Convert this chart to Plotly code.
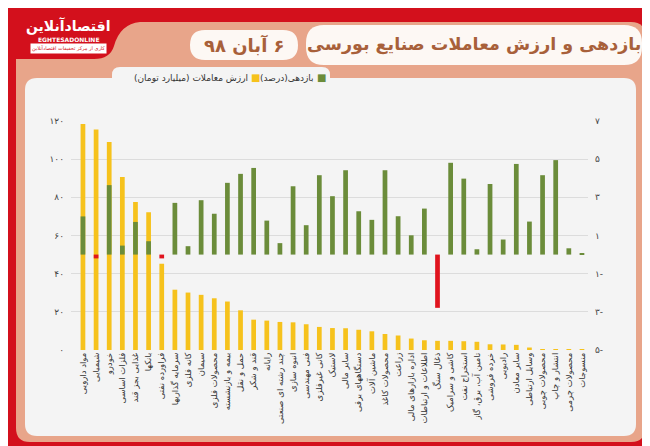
import plotly.graph_objects as go

# industries, ordered by trading value
industries = [
    "مواد دارویی", "شیمیایی", "خودرو", "فلزات اساسی", "غذایی بجز قند",
    "بانکها", "فراورده نفتی", "سرمایه گذاریها", "کانه فلزی", "سیمان",
    "محصولات فلزی", "بیمه و بازنشسته", "حمل و نقل", "قند و شکر", "رایانه",
    "چند رشته ای صنعتی", "انبوه سازی", "فنی مهندسی", "کانی غیرفلزی", "لاستیک",
    "سایر مالی", "دستگاههای برقی", "ماشین آلات", "محصولات کاغذ", "زراعت",
    "اداره بازارهای مالی", "اطلاعات و ارتباطات", "ذغال سنگ", "کاشی و سرامیک",
    "استخراج نفت", "تامین آب، برق، گاز", "خرده فروشی", "رادیویی", "سایر معادن",
    "وسایل ارتباطی", "محصولات چوبی", "انتشار و چاپ", "محصولات چرمی", "منسوجات",
]

# trading value (billion toman)
trade_value = [
    118.4, 115.5, 109.0, 90.7, 77.6, 72.2, 45.2, 31.6, 30.1, 28.9,
    27.1, 25.4, 20.8, 15.9, 15.4, 14.7, 14.5, 13.5, 12.1, 11.5,
    11.4, 10.6, 9.8, 8.4, 7.6, 6.0, 5.1, 4.8, 4.8, 4.6,
    4.3, 3.0, 2.9, 2.7, 1.3, 0.5, 0.3, 0.15, 0.1,
]

# return (percent)
returns = [
    2.0, -0.2, 3.64, 0.47, 1.71, 0.7, -0.2, 2.71, 0.44, 2.85,
    2.14, 3.76, 4.23, 4.54, 1.78, 0.6, 3.58, 1.54, 4.16, 3.06,
    4.42, 2.27, 1.82, 4.42, 2.01, 1.01, 2.41, -2.79, 4.81, 3.98,
    0.28, 3.7, 0.79, 4.75, 1.73, 4.16, 4.95, 0.33, 0.07,
]

left_ticks = [0, 20, 40, 60, 80, 100, 120]
left_labels = ["۰", "۲۰", "۴۰", "۶۰", "۸۰", "۱۰۰", "۱۲۰"]
right_ticks = [-5, -3, -1, 1, 3, 5, 7]
right_labels = ["۵-", "۳-", "۱-", "۱", "۳", "۵", "۷"]

YELLOW = "#f6c21c"
GREEN = "#6b8c3a"
RED = "#e0141e"
FRAME = "#d3101c"
PEACH = "#e8a58a"
PANEL = "#f4f4f4"
BROWN = "#a8603a"
FONT = "DejaVu Sans"

W, H = 650, 446
L, R, T, B = 63, 70, 113, 104
PW, PH = W - L - R, H - T - B


def px(x):
    return (x - L) / PW


def py(y):
    return (H - B - y) / PH


def rtl(s):
    # force right-to-left embedding for mixed persian text
    return "\u202b" + s + "\u202c"


def rrect(x0, y0, x1, y1, r):
    '''rounded rectangle path, pixel coords -> paper coords'''
    pts = (
        f"M {px(x0 + r)},{py(y0)} L {px(x1 - r)},{py(y0)} "
        f"Q {px(x1)},{py(y0)} {px(x1)},{py(y0 + r)} "
        f"L {px(x1)},{py(y1 - r)} Q {px(x1)},{py(y1)} {px(x1 - r)},{py(y1)} "
        f"L {px(x0 + r)},{py(y1)} Q {px(x0)},{py(y1)} {px(x0)},{py(y1 - r)} "
        f"L {px(x0)},{py(y0 + r)} Q {px(x0)},{py(y0)} {px(x0 + r)},{py(y0)} Z"
    )
    return pts


def deco(path, color):
    return dict(type="path", path=path, xref="paper", yref="paper",
                fillcolor=color, line=dict(width=0), layer="below")


fig = go.Figure()
fig.add_trace(go.Bar(
    x=industries, y=trade_value, width=0.36,
    marker=dict(color=YELLOW, line=dict(width=0)),
    name="ارزش معاملات (میلیارد تومان)", yaxis="y",
))
fig.add_trace(go.Bar(
    x=industries, y=returns, width=0.36,
    marker=dict(color=[GREEN if v >= 0 else RED for v in returns], line=dict(width=0)),
    name="بازدهی(درصد)", yaxis="y2",
))

logo = (f"M {px(0)},{py(0)} L {px(132)},{py(0)} L {px(132)},{py(14)} "
        f"Q {px(112)},{py(16)} {px(106)},{py(38)} Q {px(102)},{py(51)} {px(86)},{py(51)} "
        f"L {px(0)},{py(51)} Z")

shapes = [
    deco(rrect(8, 14, 637, 434, 14), PEACH),
    deco(logo, FRAME),
    deco(rrect(17, 70, 628, 428, 12), PANEL),
    deco(rrect(104, 59, 322, 80, 8), PANEL),
    deco(rrect(298, 17, 634, 57, 18), "#fdf8f4"),
    deco(rrect(182, 22, 290, 52, 15), "#fdf8f4"),
]

annotations = [
    dict(text="<b>بازدهی و ارزش معاملات صنایع بورسی</b>", x=px(466), y=py(37),
         xanchor="center", yanchor="middle", font=dict(size=17.5, color=BROWN, family=FONT)),
    dict(text="<b>" + rtl("۶ آبان ۹۸") + "</b>", x=px(236), y=py(37), xanchor="center",
         yanchor="middle", font=dict(size=18, color=BROWN, family=FONT)),
    dict(text="<b>اقتصادآنلاین</b>", x=px(60), y=py(18), xanchor="center", yanchor="middle",
         font=dict(size=14, color="white", family=FONT)),
    dict(text="<b>EGHTESADONLINE</b>", x=px(60), y=py(32), xanchor="center", yanchor="middle",
         font=dict(size=6, color="white", family=FONT)),
    dict(text="کاری از مرکز تحقیقات اقتصادآنلاین", x=px(60), y=py(41), xanchor="center",
         yanchor="middle", bgcolor="white", borderpad=1,
         font=dict(size=5, color=FRAME, family=FONT)),
    # legend, right to left
    dict(text="■", x=px(313), y=py(70), xanchor="center", yanchor="middle",
         font=dict(size=10, color=GREEN, family=FONT)),
    dict(text=rtl("بازدهی(درصد)"), x=px(308), y=py(70), xanchor="right", yanchor="middle",
         font=dict(size=9, color="#333", family=FONT)),
    dict(text="■", x=px(247), y=py(70), xanchor="center", yanchor="middle",
         font=dict(size=10, color=YELLOW, family=FONT)),
    dict(text=rtl("ارزش معاملات (میلیارد تومان)"), x=px(242), y=py(70), xanchor="right",
         yanchor="middle", font=dict(size=9, color="#333", family=FONT)),
]
for a in annotations:
    a.update(xref="paper", yref="paper", showarrow=False)

fig.update_layout(
    width=W, height=H,
    margin=dict(l=L, r=R, t=T, b=B),
    paper_bgcolor=FRAME, plot_bgcolor="rgba(0,0,0,0)",
    barmode="overlay", showlegend=False,
    font=dict(family=FONT, color="#444"),
    shapes=shapes, annotations=annotations,
    xaxis=dict(range=[-0.91, 38.46], tickangle=-90, showgrid=False, showline=False,
               ticks="", tickfont=dict(size=8.5, color="#333", family=FONT)),
    yaxis=dict(range=[0, 120], tickvals=left_ticks, ticktext=left_labels,
               showgrid=True, gridcolor="#dcdcdc", gridwidth=1, zeroline=False,
               tickfont=dict(size=9, color="#444"), ticklabelstandoff=6),
    yaxis2=dict(range=[-5, 7], tickvals=right_ticks, ticktext=right_labels,
                overlaying="y", side="right", showgrid=False, zeroline=False,
                tickfont=dict(size=9, color="#444"), ticklabelstandoff=6),
)

fig.write_html("out.html")
